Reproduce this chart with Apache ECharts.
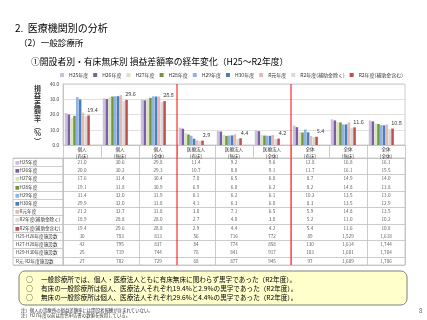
<!DOCTYPE html>
<html><head><meta charset="utf-8">
<script src="https://cdn.jsdelivr.net/npm/echarts@6/dist/echarts.min.js"></script>
<style>html,body{margin:0;padding:0;background:#fff}#c{width:427px;height:320px}</style>
</head><body><div id="c"></div>
<script>
const categories = ['個人\n(有床)','個人\n(無床)','個人\n(全体)','医療法人\n(有床)','医療法人\n(無床)','医療法人\n(全体)','全体\n(有床)','全体\n(無床)','全体\n(全体)'];
const seriesNames = ['H25年度','H26年度','H27年度','H28年度','H29年度','H30年度','R元年度','R2年度(補助金除く)','R2年度(補助金含む)'];
const h25 = [21.0,30.6,29.8,11.4,9.2,9.6,12.8,16.8,16.1];
const h26 = [20.0,30.2,29.3,10.7,8.8,9.1,11.7,16.1,15.5];
const h27 = [17.6,31.4,30.4,7.8,6.5,6.8,8.7,14.9,14.0];
const h28 = [19.1,31.8,30.9,6.9,6.0,6.2,8.2,14.8,13.8];
const h29 = [31.4,32.0,31.9,6.1,6.2,6.1,10.2,13.5,13.0];
const h30 = [29.9,32.0,31.8,4.1,6.3,6.0,8.3,13.5,12.9];
const r1  = [21.2,32.7,31.8,3.0,7.1,6.5,5.9,14.8,13.5];
const r2exc = [18.9,28.8,28.0,2.7,4.0,3.8,5.2,11.0,10.2];
const r2inc = [19.4,29.6,28.8,2.9,4.4,4.2,5.4,11.6,10.8];
const countRowNames = ['H25-H26年度施設数','H27-H28年度施設数','H29-H30年度施設数','R元-R2年度施設数'];
const cntH25H26 = [30,783,813,56,716,772,89,1529,1618];
const cntH27H28 = [42,795,837,84,774,858,130,1614,1744];
const cntH29H30 = [25,719,744,76,841,917,103,1601,1704];
const cntR1R2   = [27,702,729,68,877,945,97,1609,1706];
const yTicks = [0,10,20,30,40];

const colors = ['#ccc1da','#7b5ea7','#d7e4bd','#77933c','#8eb4e3','#4a7ebb','#e6b9b8','#d9d9d9','#c0504d'];
const pctSeries = [h25,h26,h27,h28,h29,h30,r1,r2exc,r2inc];
const cntSeries = [cntH25H26,cntH27H28,cntH29H30,cntR1R2];
const rowNames = seriesNames.concat(countRowNames);

const FONT = 'Noto Sans CJK JP';
const fmtCnt = v => String(v).replace(/\B(?=(\d{3})+(?!\d))/g, ',');

const tableData = [];
pctSeries.forEach((arr, r) => arr.forEach((v, c) => tableData.push([c, r, v.toFixed(1)])));
cntSeries.forEach((arr, k) => arr.forEach((v, c) => tableData.push([c, 9 + k, fmtCnt(v)])));

const rich = { t: { fontSize: 4.6, color: '#333', fontFamily: FONT } };
colors.forEach((col, i) => { rich['m' + i] = { fontSize: 4.6, color: col, fontFamily: FONT }; });

const chart = echarts.init(document.getElementById('c'), null, { renderer: 'canvas' });

const barSeries = seriesNames.map((name, i) => ({
  name, type: 'bar', xAxisIndex: 1, yAxisIndex: 1,
  data: pctSeries[i],
  barCategoryGap: '34%', barGap: '10%',
  itemStyle: { color: colors[i] },
  label: i === 8 ? { show: true, position: 'top', distance: 3, offset: [4, 0], fontSize: 5.5, color: '#404040', fontFamily: FONT, formatter: p => p.value.toFixed(1) } : { show: false },
  emphasis: { disabled: true }, animation: false
}));

const boxLines = [
  '一般診療所では、個人・医療法人ともに有床無床に関わらず黒字であった（R2年度）。',
  '有床の一般診療所は個人、医療法人それぞれ' + r2inc[0].toFixed(1) + '%と' + r2inc[3].toFixed(1) + '%の黒字であった（R2年度）。',
  '無床の一般診療所は個人、医療法人それぞれ' + r2inc[1].toFixed(1) + '%と' + r2inc[4].toFixed(1) + '%の黒字であった（R2年度）。'
];

const option = {
  animation: false,
  textStyle: { fontFamily: FONT },
  title: [
    { text: '2.  医療機関別の分析', left: 15, top: 23, padding: 0, textStyle: { fontSize: 10, fontWeight: 'normal', color: '#000', fontFamily: FONT } },
    { text: '（2）一般診療所', left: 19, top: 39, padding: 0, textStyle: { fontSize: 8.5, fontWeight: 'normal', color: '#000', fontFamily: FONT } },
    { text: '①開設者別・有床無床別 損益差額率の経年変化（H25〜R2年度）', left: 31, top: 57, padding: 0, textStyle: { fontSize: 8.8, fontWeight: 'normal', color: '#000', fontFamily: FONT } }
  ],
  legend: {
    data: seriesNames, left: 60, top: 72.5, padding: 0,
    itemWidth: 4, itemHeight: 4, itemGap: 5, icon: 'rect',
    textStyle: { fontSize: 5, color: '#333', fontFamily: FONT }
  },
  grid: [
    { left: 63, width: 342, top: 84, height: 61, show: true, borderColor: '#bfbfbf', borderWidth: 0.8, backgroundColor: 'transparent' },
    { left: 58.3, width: 342, top: 84, height: 61 },
    { left: 63, width: 342, top: 158, height: 107, show: true, borderColor: '#bfbfbf', borderWidth: 0.8 },
    { left: 13, width: 50, top: 158, height: 107, show: true, borderColor: '#bfbfbf', borderWidth: 0.8 }
  ],
  xAxis: [
    { gridIndex: 0, type: 'category', data: categories,
      axisLine: { show: true, lineStyle: { color: '#bfbfbf', width: 0.8 } },
      axisTick: { show: true, length: 13, lineStyle: { color: '#bfbfbf', width: 0.8 } },
      axisLabel: { interval: 0, fontSize: 4.6, lineHeight: 6.2, margin: 1.5, color: '#333', fontFamily: FONT } },
    { gridIndex: 1, type: 'category', data: categories, show: false },
    { gridIndex: 2, type: 'category', data: categories,
      axisLine: { show: false }, axisTick: { show: false }, axisLabel: { show: false },
      splitLine: { show: true, lineStyle: { color: '#bfbfbf', width: 0.8 } } },
    { gridIndex: 3, type: 'category', data: [''], show: false }
  ],
  yAxis: [
    { gridIndex: 0, type: 'value', min: 0, max: 40, interval: 10,
      axisLine: { show: true, lineStyle: { color: '#bfbfbf', width: 0.8 } },
      axisTick: { show: false },
      axisLabel: { fontSize: 4.6, margin: 4, color: '#333', fontFamily: FONT, formatter: v => yTicks.includes(v) ? v.toFixed(1) : '' },
      splitLine: { show: true, lineStyle: { color: '#d9d9d9', width: 0.8 } },
      name: '損\n益\n差\n額\n率\n︵\n%\n︶', nameLocation: 'middle', nameRotate: 0, nameGap: 22,
      nameTextStyle: { fontSize: 7, fontWeight: 'bold', color: '#333', lineHeight: 7.6, fontFamily: FONT } },
    { gridIndex: 1, type: 'value', min: 0, max: 40, interval: 10, show: false },
    { gridIndex: 2, type: 'category', data: rowNames, inverse: true,
      axisLine: { show: false }, axisTick: { show: false }, axisLabel: { show: false },
      splitLine: { show: true, lineStyle: { color: '#bfbfbf', width: 0.8 } } },
    { gridIndex: 3, type: 'category', data: rowNames, inverse: true,
      axisLine: { show: false }, axisTick: { show: false },
      axisLabel: { inside: true, margin: 2, interval: 0, rich,
        formatter: (v, idx) => idx < 9 ? '{m' + idx + '|■}{t|' + v + '}' : '{t| ' + v + '}' },
      splitLine: { show: true, lineStyle: { color: '#bfbfbf', width: 0.8 } } }
  ],
  series: barSeries.concat([
    { type: 'scatter', xAxisIndex: 2, yAxisIndex: 2, data: tableData,
      symbol: 'rect', symbolSize: 1, itemStyle: { color: 'rgba(0,0,0,0)' },
      label: { show: true, position: 'inside', fontSize: 4.6, color: '#333', fontFamily: FONT, formatter: p => p.value[2] },
      emphasis: { disabled: true }, silent: true }
  ])
};
chart.setOption(option);

// red separator lines, positioned from the axes
const px = i => chart.convertToPixel({ xAxisIndex: 0 }, categories[i]);
const sepX = [(px(2) + px(3)) / 2, (px(5) + px(6)) / 2];
const yTop = chart.convertToPixel({ yAxisIndex: 0 }, 40);
const r11 = chart.convertToPixel({ yAxisIndex: 2 }, rowNames[11]);
const r12 = chart.convertToPixel({ yAxisIndex: 2 }, rowNames[12]);
const yBot = r12 + (r12 - r11) / 2;

const graphics = sepX.map(x => ({ type: 'line', shape: { x1: x, y1: yTop, x2: x, y2: yBot }, style: { stroke: '#ff0000', lineWidth: 1 }, z: 100 }));
graphics.push({ type: 'rect', shape: { x: 19, y: 271, width: 388, height: 34, r: 6 }, style: { fill: '#ffffcc', stroke: '#7f7f7f', lineWidth: 1 }, z: 50 });
boxLines.forEach((t, i) => {
  graphics.push({ type: 'text', x: 26, y: 279 + i * 9, style: { text: '○', fontSize: 7, fill: '#000', fontFamily: FONT, textVerticalAlign: 'middle' }, z: 60 });
  graphics.push({ type: 'text', x: 41, y: 279 + i * 9, style: { text: t, fontSize: 6.6, fill: '#000', fontFamily: FONT, textVerticalAlign: 'middle' }, z: 60 });
});
graphics.push({ type: 'text', x: 21, y: 310, style: { text: '注）個人の診療所の損益差額率には開設者報酬が含まれていない。', fontSize: 4.4, fill: '#333', fontFamily: FONT, textVerticalAlign: 'middle' } });
graphics.push({ type: 'text', x: 21, y: 315.5, style: { text: '注）H27年度以前は青色申告書の数値を採用している。', fontSize: 4.4, fill: '#333', fontFamily: FONT, textVerticalAlign: 'middle' } });
graphics.push({ type: 'text', x: 419, y: 311, style: { text: '8', fontSize: 6, fill: '#666', fontFamily: FONT, textVerticalAlign: 'middle' } });
chart.setOption({ graphic: graphics });
</script></body></html>
